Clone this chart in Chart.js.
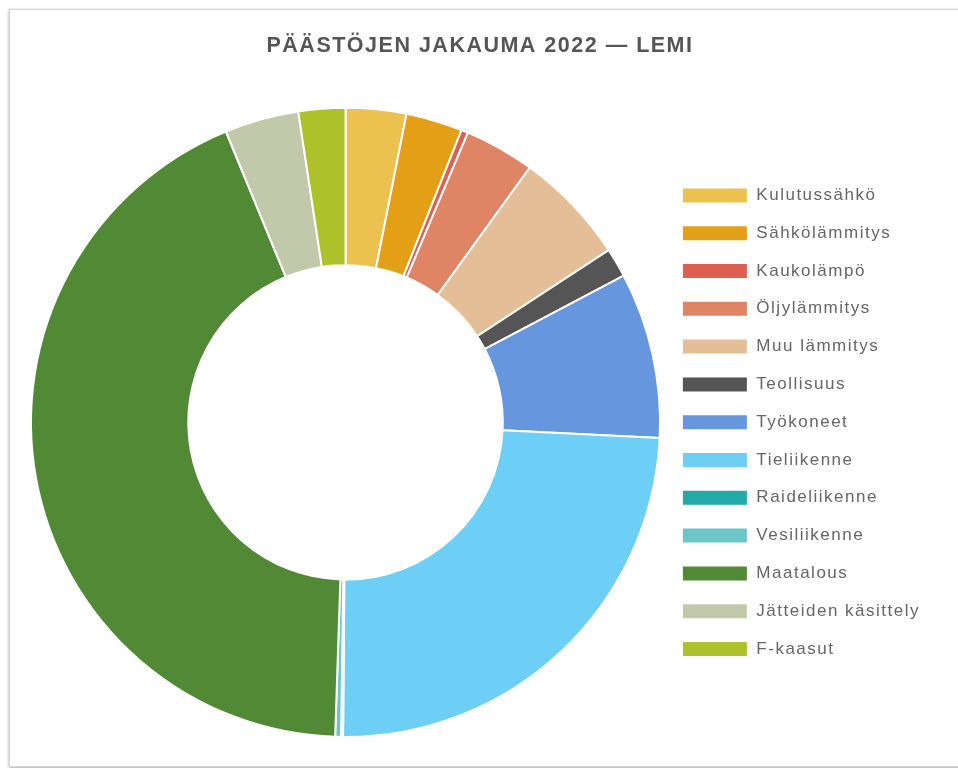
<!DOCTYPE html>
<html lang="fi">
<head>
<meta charset="utf-8">
<title>Päästöjen jakauma 2022 — Lemi</title>
<script src="https://cdn.jsdelivr.net/npm/chart.js@4/dist/chart.umd.min.js"></script>
<style>
    html, body { margin: 0; padding: 0; background: #fff; overflow: hidden; }
    .card {
        position: absolute;
        left: 9px;
        top: 9px;
        width: 1000px;
        height: 756px;
        border: 1px solid #d6d6d6;
        box-shadow: 0 1px 3px rgba(0, 0, 0, 0.35);
        background: #fff;
    }
    #emission-chart { position: absolute; left: 0; top: 0; }
</style>
</head>
<body>
<div class="card">
    <div style="position:absolute;left:0;top:0;width:948px;height:756px">
        <canvas id="emission-chart"></canvas>
    </div>
</div>
<script>
// sektorit ja osuudet (%)
const sectors = [
    "Kulutussähkö", "Sähkölämmitys", "Kaukolämpö", "Öljylämmitys", "Muu lämmitys",
    "Teollisuus", "Työkoneet", "Tieliikenne", "Raideliikenne", "Vesiliikenne",
    "Maatalous", "Jätteiden käsittely", "F-kaasut"
];
const shares = [3.1, 2.9, 0.35, 3.6, 5.8, 1.5, 8.5, 24.3, 0.1, 0.3, 43.2, 3.8, 2.4];
const sectorColors = [
    "#ebc250", "#e3a017", "#dd6052", "#df8464", "#e4be96",
    "#555555", "#6696de", "#6dcff5", "#22aaa6", "#6cc6c8",
    "#518935", "#c1c9aa", "#adc22a"
];
const chartTitle = "PÄÄSTÖJEN JAKAUMA 2022 — LEMI";

// kirjainvälit kuten kuvassa
const spacingPlugin = {
    id: "letterSpacing",
    beforeLayout(chart) { chart.ctx.letterSpacing = "1.5px"; },
    beforeDraw(chart) { chart.ctx.letterSpacing = "1.5px"; }
};

const ctx = document.getElementById("emission-chart").getContext("2d");
new Chart(ctx, {
    type: "doughnut",
    data: {
        labels: sectors,
        datasets: [{
            data: shares,
            backgroundColor: sectorColors,
            borderColor: "#ffffff",
            borderWidth: 2
        }]
    },
    options: {
        responsive: true,
        maintainAspectRatio: false,
        animation: false,
        cutout: "50%",
        layout: {
            padding: { left: 20, right: 28, top: 0, bottom: 28 }
        },
        plugins: {
            title: {
                display: true,
                text: chartTitle,
                color: "#555555",
                font: { family: "'Liberation Sans', Arial, sans-serif", size: 21.5, weight: "bold" },
                padding: { top: 23, bottom: 48 }
            },
            legend: {
                position: "right",
                title: {
                    display: true,
                    text: " ",
                    font: { size: 12 },
                    padding: 41
                },
                labels: {
                    boxWidth: 66,
                    boxHeight: 16,
                    padding: 20.8,
                    color: "#666666",
                    font: { family: "'Liberation Sans', Arial, sans-serif", size: 17 }
                }
            },
            tooltip: { enabled: false }
        }
    },
    plugins: [spacingPlugin]
});
</script>
</body>
</html>
